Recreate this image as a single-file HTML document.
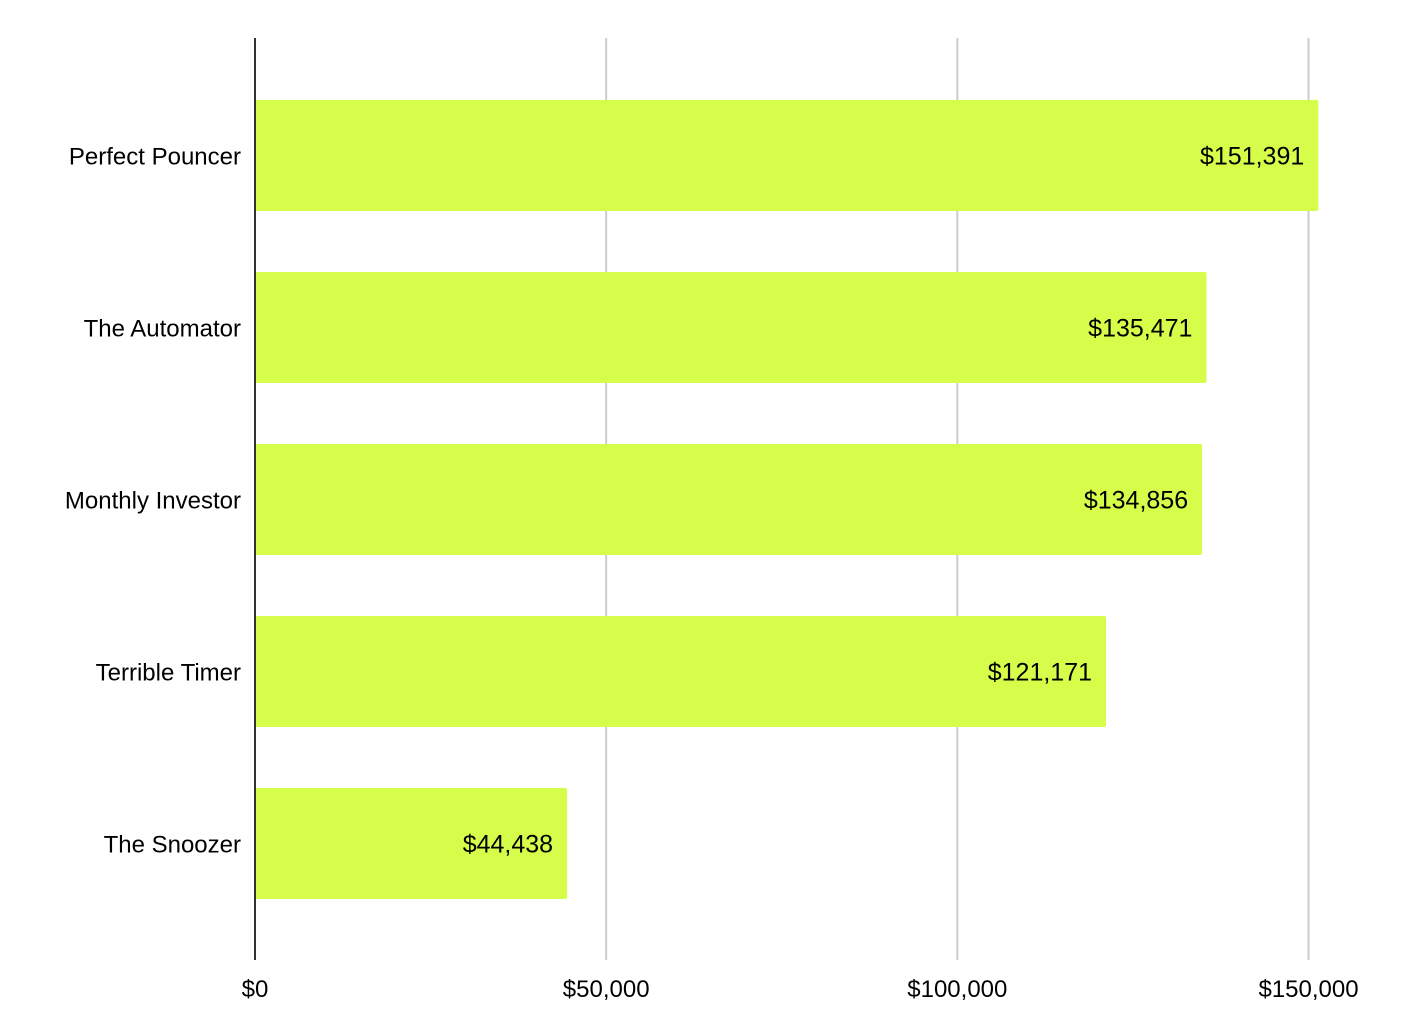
<!DOCTYPE html>
<html><head><meta charset="utf-8"><style>
html,body{margin:0;padding:0;background:#fff;}
svg text{font-family:"Liberation Sans",Arial,sans-serif;fill:#000;}
</style></head><body>
<svg id="chart" width="1412" height="1028" xmlns="http://www.w3.org/2000/svg"></svg>
<script>
const categories = ["Perfect Pouncer","The Automator","Monthly Investor","Terrible Timer","The Snoozer"];
const values = [151391,135471,134856,121171,44438];
const valueLabels = ["$151,391","$135,471","$134,856","$121,171","$44,438"];
const ticks = [0,50000,100000,150000];
const tickLabels = ["$0","$50,000","$100,000","$150,000"];

const NS="http://www.w3.org/2000/svg";
const svg=document.getElementById('chart');
const x0=255, x1=1308.5, xMax=150000;
const plotTop=38, plotBottom=960;
const xs=v=>x0+(x1-x0)*v/xMax;
const band=172, firstTop=100, barH=111;
function mk(tag,attrs){const e=document.createElementNS(NS,tag);for(const k in attrs)e.setAttribute(k,attrs[k]);svg.appendChild(e);return e;}

ticks.forEach((t,i)=>{
  if(t!==0){
    const g=mk('line',{x1:xs(t),x2:xs(t),y1:plotTop,y2:plotBottom,stroke:'#cccccc','stroke-width':2});
    
    
  }
  const tl=mk('text',{x:xs(t),y:997,'text-anchor':'middle','font-size':24});
  tl.textContent=tickLabels[i];
  
  
});

categories.forEach((c,i)=>{
  const top=firstTop+i*band;
  const r=mk('rect',{x:x0-1,y:top,width:xs(values[i])-x0+1,height:barH,rx:2,fill:'#d6fd4a'});
  
  
  const v=mk('text',{x:xs(values[i])-14,y:top+barH/2+9,'text-anchor':'end','font-size':25});
  v.textContent=valueLabels[i];
  
  
  const l=mk('text',{x:241,y:top+barH/2+9,'text-anchor':'end','font-size':24});
  l.textContent=c;
  
  
});

const ax=mk('line',{x1:x0,x2:x0,y1:plotTop,y2:plotBottom,stroke:'#333333','stroke-width':2});


</script>
</body></html>
